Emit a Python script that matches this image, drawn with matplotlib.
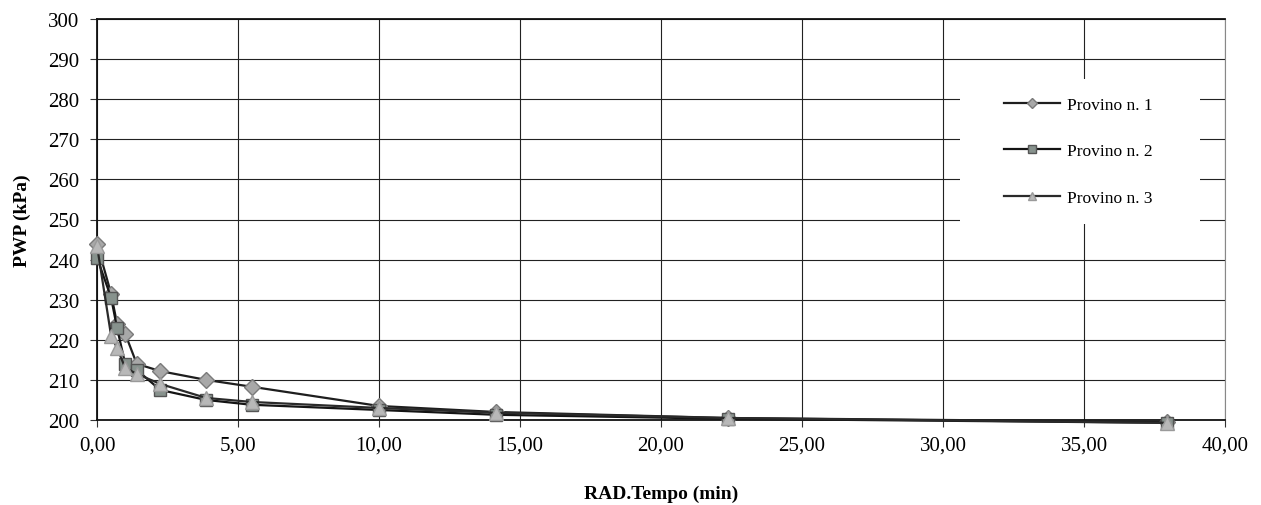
import matplotlib
matplotlib.use('Agg')
import matplotlib.pyplot as plt
from matplotlib.patches import Rectangle

# radice del tempo (min^0.5)
rad_tempo = [0.0, 0.5, 0.71, 1.0, 1.41, 2.24, 3.87, 5.48, 10.0, 14.14, 22.36, 37.95]

provino_1 = [244.0, 231.5, 224.0, 221.5, 214.0, 212.2, 210.0, 208.3, 203.5, 202.0, 200.5, 199.5]
provino_2 = [240.5, 230.5, 223.0, 214.0, 212.5, 207.5, 205.0, 203.8, 202.5, 201.3, 200.3, 199.3]
provino_3 = [243.5, 221.0, 218.0, 213.0, 211.5, 209.0, 205.5, 204.5, 203.0, 201.8, 200.5, 199.3]

series_names = ['Provino n. 1', 'Provino n. 2', 'Provino n. 3']

x_ticks = [0, 5, 10, 15, 20, 25, 30, 35, 40]
x_tick_labels = ['0,00', '5,00', '10,00', '15,00', '20,00', '25,00', '30,00', '35,00', '40,00']
y_ticks = [200, 210, 220, 230, 240, 250, 260, 270, 280, 290, 300]

plt.rcParams['font.family'] = ['Liberation Serif', 'DejaVu Serif']

fig = plt.figure(figsize=(12.61, 5.06), dpi=100)
W, H = 1261.0, 506.0
left, right, top, bottom = 97, 1225, 20, 421
ax = fig.add_axes([left / W, 1 - bottom / H, (right - left) / W, (bottom - top) / H])

styles = [
    dict(marker='D', markersize=8, markerfacecolor='#a8a8a8', markeredgecolor='#7a7a7a', color='#1e1e1e'),
    dict(marker='s', markersize=8.5, markerfacecolor='#87928d', markeredgecolor='#555', color='#141414'),
    dict(marker='^', markersize=10, markerfacecolor='#b8b8b8', markeredgecolor='#9a9a9a', color='#2a2a2a'),
]
for ys, name, st in zip([provino_1, provino_2, provino_3], series_names, styles):
    ax.plot(rad_tempo, ys, label=name, linewidth=1.6, zorder=3, clip_on=False, **st)

ax.set_xlim(0, 40)
ax.set_ylim(200, 300)
ax.set_xticks(x_ticks)
ax.set_xticklabels(x_tick_labels)
ax.set_yticks(y_ticks)
ax.tick_params(axis='both', labelsize=15, direction='out', length=5, color='#333')
ax.tick_params(axis='x', pad=6)
ax.tick_params(axis='y', pad=8)
ax.grid(True, color='#222', linewidth=0.8)
ax.set_axisbelow(True)
for side in ['left', 'bottom', 'top']:
    ax.spines[side].set_color('#111')
    ax.spines[side].set_linewidth(1.3)
ax.spines['right'].set_color('#888')

ax.set_xlabel('RAD.Tempo (min)', fontsize=14, fontweight='bold', labelpad=22)
ax.set_ylabel('PWP (kPa)', fontsize=14, fontweight='bold', labelpad=12)

# riquadro legenda bianco
ax.add_patch(Rectangle((0.765, 0.49), 0.213, 0.36, transform=ax.transAxes,
                       facecolor='white', edgecolor='none', zorder=2))
leg = ax.legend(loc='center', bbox_to_anchor=(0.87, 0.67), frameon=False, fontsize=12.5,
                handlelength=3.2, handletextpad=0.4, labelspacing=1.75, markerscale=0.6)
leg.set_zorder(4)

fig.savefig('out.png', dpi=100, facecolor='white')
